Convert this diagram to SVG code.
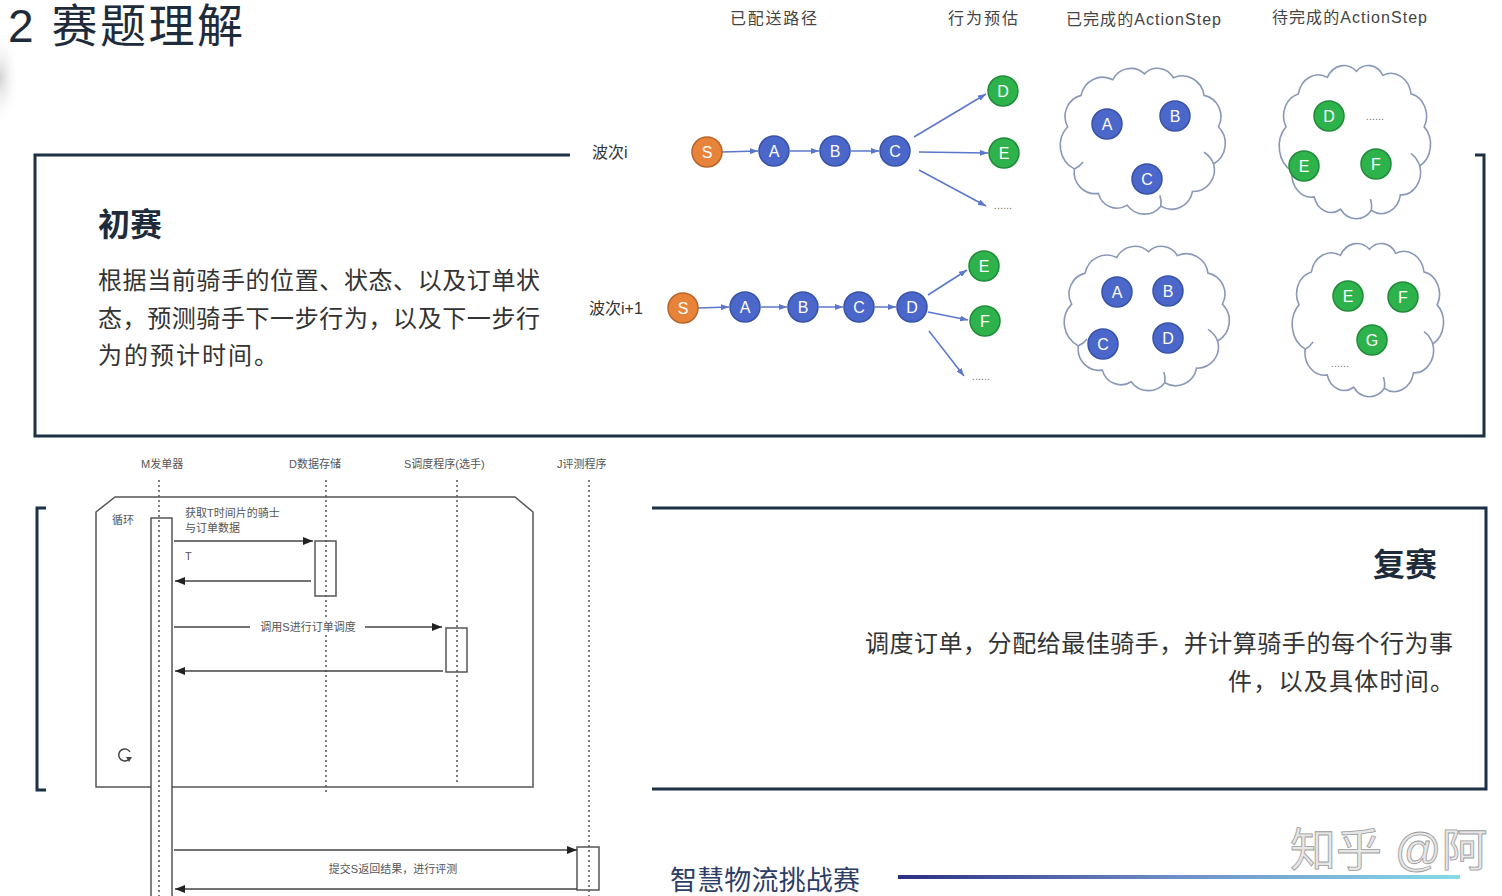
<svg xmlns="http://www.w3.org/2000/svg" width="1502" height="896" viewBox="0 0 1502 896">
  <style>
    .cn { font-family: "Liberation Sans", "Noto Sans CJK SC", sans-serif; }
    .title { font-size: 46px; fill: #1d2b3a; }
    .head { font-size: 16px; fill: #444; }
    .h2 { font-size: 32px; font-weight: bold; fill: #1d2b3a; }
    .body { font-size: 24px; fill: #333; }
    .wave { font-size: 16px; fill: #333; }
    .frame { fill: none; stroke: #1c3145; stroke-width: 3; }
    .node text { font-family: "Liberation Sans", sans-serif; font-size: 16px; fill: #fff; text-anchor: middle; }
    .orange { fill: #e8843a; stroke: #b8652c; stroke-width: 1.5; }
    .blue { fill: #4a67c9; stroke: #3852a8; stroke-width: 1.5; }
    .green { fill: #2eb24c; stroke: #1f8b38; stroke-width: 1.5; }
    .edge { stroke: #5b77cc; stroke-width: 1.5; fill: none; marker-end: url(#arrB); }
    .dots { font-family: "Liberation Sans", sans-serif; font-size: 11px; fill: #777; text-anchor: middle; }
    .cloud { fill: #fff; stroke: #8a98b8; stroke-width: 1.6; }
    .seqtxt { font-size: 11px; fill: #555; }
    .life { stroke: #555; stroke-width: 1.5; stroke-dasharray: 2 3; fill: none; }
    .box { fill: #fff; stroke: #555; stroke-width: 1.5; }
    .msg { stroke: #444; stroke-width: 1.5; fill: none; marker-end: url(#arrK); }
  </style>
  <defs>
    <marker id="arrB" markerUnits="userSpaceOnUse" markerWidth="8" markerHeight="6" refX="8" refY="3" orient="auto">
      <path d="M0,0 L8,3 L0,6 z" fill="#5b77cc"/>
    </marker>
    <marker id="arrK" markerUnits="userSpaceOnUse" markerWidth="10" markerHeight="8" refX="10" refY="4" orient="auto">
      <path d="M0,0 L10,4 L0,8 z" fill="#222"/>
    </marker>
    <linearGradient id="rule" x1="0" y1="0" x2="1" y2="0">
      <stop offset="0" stop-color="#2b2f82"/>
      <stop offset="0.5" stop-color="#6f8fc8"/>
      <stop offset="1" stop-color="#86dbe8"/>
    </linearGradient>
    <radialGradient id="shade" cx="0.5" cy="0.5" r="0.5">
      <stop offset="0" stop-color="#c8c8c8" stop-opacity="0.8"/>
      <stop offset="1" stop-color="#ffffff" stop-opacity="0"/>
    </radialGradient>
    <!-- cloud outline in a 170x150 box -->
    <g id="cloudShape">
      <path class="cloud" vector-effect="non-scaling-stroke" d="M8,62 A22,22 0 0 1 22,30 A23,23 0 0 1 55,14 A21,21 0 0 1 88,8 A19,19 0 0 1 118,12 A23,23 0 0 1 150,30 A22,22 0 0 1 165,62 A24,24 0 0 1 160,100 A22,22 0 0 1 138,128 A22,22 0 0 1 105,143 A22,22 0 0 1 70,142 A20,20 0 0 1 40,130 A22,22 0 0 1 15,105 A27,27 0 0 1 8,62 Z"/>
      <path fill="none" stroke="#8a98b8" stroke-width="1.6" vector-effect="non-scaling-stroke" d="M160,100 A24,24 0 0 0 150,88 M15,105 A22,22 0 0 0 24,98 M105,143 A22,22 0 0 0 104,132"/>
    </g>
  </defs>

  <rect x="0" y="0" width="1502" height="896" fill="#fff"/>
  <ellipse cx="0" cy="78" rx="20" ry="48" fill="url(#shade)"/>

  <!-- heading -->
  <text class="cn title" x="8" y="42" textLength="235" lengthAdjust="spacing">2 赛题理解</text>

  <!-- column headings -->
  <g id="col-heads" class="cn head">
    <text x="730" y="24" textLength="87">已配送路径</text>
    <text x="948" y="24" textLength="70">行为预估</text>
    <text x="1066" y="25" textLength="155">已完成的ActionStep</text>
    <text x="1272" y="23" textLength="155">待完成的ActionStep</text>
  </g>

  <!-- preliminary round frame -->
  <g id="prelim">
    <path class="frame" d="M570,155 H35 V436 H1484 V155 H1475"/>
    <text class="cn h2" x="98" y="236">初赛</text>
    <text class="cn body" x="98" y="289" textLength="442" lengthAdjust="spacing">根据当前骑手的位置、状态、以及订单状</text>
    <text class="cn body" x="98" y="327" textLength="442" lengthAdjust="spacing">态，预测骑手下一步行为，以及下一步行</text>
    <text class="cn body" x="98" y="364" textLength="180" lengthAdjust="spacing">为的预计时间。</text>
  </g>

  <!-- wave labels -->
  <text id="wave-i" class="cn wave" x="592" y="158">波次i</text>
  <text id="wave-i1" class="cn wave" x="589" y="314">波次i+1</text>

  <!-- route connectors -->
  <g id="connectors">
    <line class="edge" x1="722" y1="152" x2="758" y2="151"/>
    <line class="edge" x1="790" y1="151" x2="819" y2="151"/>
    <line class="edge" x1="851" y1="151" x2="879" y2="151"/>
    <line class="edge" x1="914" y1="137" x2="986" y2="94"/>
    <line class="edge" x1="919" y1="152" x2="988" y2="153"/>
    <line class="edge" x1="919" y1="170" x2="986" y2="206"/>

    <line class="edge" x1="698" y1="308" x2="729" y2="307"/>
    <line class="edge" x1="761" y1="307" x2="787" y2="307"/>
    <line class="edge" x1="819" y1="307" x2="843" y2="307"/>
    <line class="edge" x1="875" y1="307" x2="896" y2="307"/>
    <line class="edge" x1="928" y1="295" x2="967" y2="270"/>
    <line class="edge" x1="928" y1="312" x2="968" y2="320"/>
    <line class="edge" x1="929" y1="331" x2="964" y2="376"/>
  </g>

  <!-- wave i route -->
  <g id="w1-S" class="node"><circle class="orange" cx="707" cy="152" r="15"/><text x="707" y="158">S</text></g>
  <g id="w1-A" class="node"><circle class="blue" cx="774" cy="151" r="15"/><text x="774" y="157">A</text></g>
  <g id="w1-B" class="node"><circle class="blue" cx="835" cy="151" r="15"/><text x="835" y="157">B</text></g>
  <g id="w1-C" class="node"><circle class="blue" cx="895" cy="151" r="15"/><text x="895" y="157">C</text></g>
  <g id="w1-D" class="node"><circle class="green" cx="1003" cy="91" r="15"/><text x="1003" y="97">D</text></g>
  <g id="w1-E" class="node"><circle class="green" cx="1004" cy="153" r="15"/><text x="1004" y="159">E</text></g>
  <text id="w1-more" class="dots" x="1003" y="209">......</text>

  <!-- wave i+1 route -->
  <g id="w2-S" class="node"><circle class="orange" cx="683" cy="308" r="15"/><text x="683" y="314">S</text></g>
  <g id="w2-A" class="node"><circle class="blue" cx="745" cy="307" r="15"/><text x="745" y="313">A</text></g>
  <g id="w2-B" class="node"><circle class="blue" cx="803" cy="307" r="15"/><text x="803" y="313">B</text></g>
  <g id="w2-C" class="node"><circle class="blue" cx="859" cy="307" r="15"/><text x="859" y="313">C</text></g>
  <g id="w2-D" class="node"><circle class="blue" cx="912" cy="307" r="15"/><text x="912" y="313">D</text></g>
  <g id="w2-E" class="node"><circle class="green" cx="984" cy="266" r="15"/><text x="984" y="272">E</text></g>
  <g id="w2-F" class="node"><circle class="green" cx="985" cy="321" r="15"/><text x="985" y="327">F</text></g>
  <text id="w2-more" class="dots" x="981" y="380">......</text>

  <!-- step pools -->
  <g id="done-1">
    <use href="#cloudShape" transform="translate(1060,66) scale(0.96,0.98)"/>
    <g class="node"><circle class="blue" cx="1107" cy="124" r="15"/><text x="1107" y="130">A</text></g>
    <g class="node"><circle class="blue" cx="1175" cy="116" r="15"/><text x="1175" y="122">B</text></g>
    <g class="node"><circle class="blue" cx="1147" cy="179" r="15"/><text x="1147" y="185">C</text></g>
  </g>
  <g id="todo-1">
    <use href="#cloudShape" transform="translate(1279,63) scale(0.88,1.03)"/>
    <g class="node"><circle class="green" cx="1329" cy="116" r="15"/><text x="1329" y="122">D</text></g>
    <text class="dots" x="1375" y="120">......</text>
    <g class="node"><circle class="green" cx="1304" cy="166" r="15"/><text x="1304" y="172">E</text></g>
    <g class="node"><circle class="green" cx="1376" cy="164" r="15"/><text x="1376" y="170">F</text></g>
  </g>
  <g id="done-2">
    <use href="#cloudShape" transform="translate(1064,244) scale(0.96,0.97)"/>
    <g class="node"><circle class="blue" cx="1117" cy="292" r="15"/><text x="1117" y="298">A</text></g>
    <g class="node"><circle class="blue" cx="1168" cy="291" r="15"/><text x="1168" y="297">B</text></g>
    <g class="node"><circle class="blue" cx="1103" cy="344" r="15"/><text x="1103" y="350">C</text></g>
    <g class="node"><circle class="blue" cx="1168" cy="338" r="15"/><text x="1168" y="344">D</text></g>
  </g>
  <g id="todo-2">
    <use href="#cloudShape" transform="translate(1292,241) scale(0.88,1.03)"/>
    <g class="node"><circle class="green" cx="1348" cy="296" r="15"/><text x="1348" y="302">E</text></g>
    <g class="node"><circle class="green" cx="1403" cy="297" r="15"/><text x="1403" y="303">F</text></g>
    <g class="node"><circle class="green" cx="1372" cy="340" r="15"/><text x="1372" y="346">G</text></g>
    <text class="dots" x="1340" y="367">......</text>
  </g>

  <!-- sequence diagram -->
  <g id="sequence">
    <g class="cn seqtxt">
      <text x="141" y="468">M发单器</text>
      <text x="289" y="468">D数据存储</text>
      <text x="404" y="468">S调度程序(选手)</text>
      <text x="557" y="468">J评测程序</text>
    </g>
    <!-- loop frame -->
    <path d="M96,512 L115,497 H515 L533,512 V787 H96 Z" fill="none" stroke="#555" stroke-width="1.5"/>
    <text class="cn seqtxt" x="112" y="524">循环</text>
    <path d="M130,752 A6,6 0 1 0 128,760" fill="none" stroke="#444" stroke-width="1.5"/>
    <path d="M126,757 L129,762 L132,757 z" fill="#444"/>

    <!-- activations -->
    <rect class="box" x="151" y="518" width="21" height="385"/>
    <rect class="box" x="315" y="541" width="21" height="55"/>
    <rect class="box" x="446" y="628" width="21" height="44"/>
    <rect class="box" x="577" y="847" width="22" height="43"/>

    <!-- lifelines -->
    <line class="life" x1="159" y1="480" x2="159" y2="896"/>
    <line class="life" x1="326" y1="480" x2="326" y2="793"/>
    <line class="life" x1="457" y1="480" x2="457" y2="782"/>
    <line class="life" x1="589" y1="480" x2="589" y2="896"/>

    <!-- messages -->
    <text class="cn seqtxt" x="185" y="517">获取T时间片的骑士</text>
    <text class="cn seqtxt" x="185" y="532">与订单数据</text>
    <line class="msg" x1="174" y1="541" x2="313" y2="541"/>
    <text class="cn seqtxt" x="185" y="560">T</text>
    <line class="msg" x1="311" y1="581" x2="175" y2="581"/>
    <line class="msg" x1="174" y1="627" x2="442" y2="627"/>
    <rect x="250" y="620" width="115" height="14" fill="#fff"/>
    <text class="cn seqtxt" x="308" y="631" text-anchor="middle">调用S进行订单调度</text>
    <line class="msg" x1="443" y1="671" x2="175" y2="671"/>
    <line class="msg" x1="174" y1="850" x2="577" y2="850"/>
    <text class="cn seqtxt" x="393" y="873" text-anchor="middle">提交S返回结果，进行评测</text>
    <line class="msg" x1="577" y1="889" x2="175" y2="889"/>
  </g>

  <!-- final round frame -->
  <g id="final">
    <path class="frame" d="M46,508 H37 V790 H46"/>
    <path class="frame" d="M652,508 H1486 V789 H652"/>
    <text class="cn h2" x="1437" y="576" text-anchor="end">复赛</text>
    <text class="cn body" x="865" y="652" textLength="588" lengthAdjust="spacing">调度订单，分配给最佳骑手，并计算骑手的每个行为事</text>
    <text class="cn body" x="1228" y="690" textLength="226" lengthAdjust="spacing">件，以及具体时间。</text>
  </g>

  <!-- footer -->
  <g id="footer">
    <text class="cn" x="670" y="890" font-size="27" fill="#2c3d66" textLength="190" lengthAdjust="spacing">智慧物流挑战赛</text>
    <rect x="898" y="875" width="562" height="4" fill="url(#rule)"/>
    <text class="cn" x="1290" y="866" font-size="46" fill="#e6e6e6" stroke="#9c9c9c" stroke-width="0.8">知乎 @阿</text>
  </g>
</svg>
